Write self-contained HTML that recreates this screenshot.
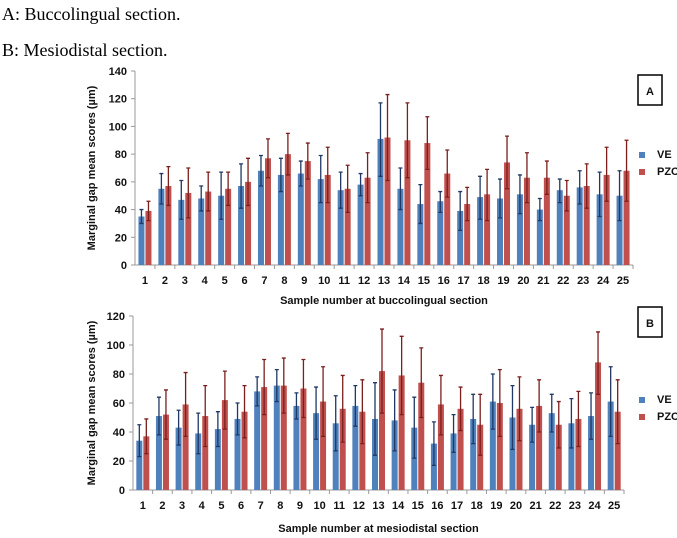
<!DOCTYPE html>
<html><head><meta charset="utf-8"><style>
body{margin:0;background:#fff;width:677px;height:538px;overflow:hidden}
svg{display:block}
.cap{font-family:"Liberation Serif",serif;font-size:18px;fill:#000}
.t{font-family:"Liberation Sans",sans-serif;font-weight:bold;font-size:11px;fill:#111}
</style></head><body>
<svg id="s" width="677" height="538">
<text class="cap" x="2" y="20">A: Buccolingual section.</text>
<text class="cap" x="2" y="56">B: Mesiodistal section.</text>
</svg>
<script>
const categories=[1,2,3,4,5,6,7,8,9,10,11,12,13,14,15,16,17,18,19,20,21,22,23,24,25];
const veA=[35,55,47,48,50,57,68,65,66,62,54,58,91,55,44,46,39,49,48,51,40,54,56,51,50];
const veAHi=[40,66,61,57,67,73,79,77,75,79,67,66,117,70,58,53,53,64,62,65,48,62,68,67,68];
const veALo=[30,44,33,39,33,41,57,53,57,45,41,50,64,40,30,38,25,33,34,37,32,45,44,35,32];
const pzcA=[39,57,52,53,55,60,77,80,75,65,55,63,92,90,88,66,44,51,74,63,63,50,57,65,68];
const pzcAHi=[46,71,70,67,67,77,91,95,88,85,72,81,123,117,107,83,56,69,93,81,75,61,73,85,90];
const pzcALo=[32,43,34,39,43,43,63,65,62,45,38,45,61,63,69,49,32,32,55,45,51,39,41,46,46];
const veB=[34,51,43,39,42,49,68,72,58,53,46,58,49,48,43,32,39,49,61,50,45,53,46,51,61];
const veBHi=[45,64,55,53,54,60,78,83,67,71,65,72,74,69,64,47,52,66,80,72,57,66,63,67,85];
const veBLo=[23,38,31,25,30,38,58,61,49,35,27,44,24,27,22,17,26,32,42,28,33,40,29,35,37];
const pzcB=[37,52,59,51,62,54,71,72,70,61,56,54,82,79,74,59,56,45,60,56,58,45,49,88,54];
const pzcBHi=[49,69,81,72,82,72,90,91,90,85,79,76,111,106,98,79,71,66,83,78,76,61,68,109,76];
const pzcBLo=[25,35,37,30,42,36,52,53,50,37,33,32,53,52,50,38,41,24,37,34,40,29,30,66,32];
const ticksA=[0,20,40,60,80,100,120,140];
const ticksB=[0,20,40,60,80,100,120];
const NS='http://www.w3.org/2000/svg';
const svg=document.getElementById('s');
function mk(tag,attrs,parent){const e=document.createElementNS(NS,tag);for(const k in attrs)e.setAttribute(k,attrs[k]);(parent||svg).appendChild(e);return e;}
function chart(o){
  const g=mk('g',{});
  
  
  const ymax=o.ticks[o.ticks.length-1];
  const y=v=>o.y0-(v/ymax)*(o.y0-o.yTop);
  const step=(o.x1-o.x0)/categories.length;
  const x=i=>o.x0+step*(i+0.5);
  const ax=mk('line',{x1:o.x0,y1:o.yTop,x2:o.x0,y2:o.y0,stroke:'#999','stroke-width':1},g);
  
  const bx=mk('line',{x1:o.x0-4,y1:o.y0,x2:o.x1,y2:o.y0,stroke:'#999','stroke-width':1},g);
  
  o.ticks.forEach(t=>{
    mk('line',{x1:o.x0-4,x2:o.x0,y1:y(t),y2:y(t),stroke:'#999'},g);
    const tx=mk('text',{x:o.x0-8,y:y(t)+4,'text-anchor':'end',class:'t'},g);tx.textContent=t;
    
  });
  categories.forEach((c,i)=>{
    mk('line',{x1:o.x0+step*(i+1),x2:o.x0+step*(i+1),y1:o.y0,y2:o.y0+4,stroke:'#999'},g);
    const tx=mk('text',{x:x(i),y:o.y0+19,'text-anchor':'middle',class:'t'},g);tx.textContent=c;
    
    [[o.ve,o.veHi,o.veLo,'#4f81bd','#1f3864',-6.5],[o.pzc,o.pzcHi,o.pzcLo,'#c0504d','#7b1f1d',0.5]].forEach(([v,hi,lo,col,ec,off],s)=>{
      const b=mk('rect',{x:x(i)+off,y:y(v[i]),width:6,height:o.y0-y(v[i]),fill:col},g);
      
      const cx=x(i)+off+3;
      const e=mk('path',{d:`M${cx},${y(hi[i])}V${y(lo[i])}M${cx-2},${y(hi[i])}H${cx+2}M${cx-2},${y(lo[i])}H${cx+2}`,stroke:ec,'stroke-width':1.3,fill:'none'},g);
      
    });
  });
  const xt=mk('text',{x:(o.x0+o.x1)/2,y:o.xtY,'text-anchor':'middle',class:'t','font-size':'10'},g);xt.textContent=o.xt;
  
  const cy=(o.y0+o.yTop)/2;
  const yt=mk('text',{x:0,y:0,transform:`translate(95,${cy}) rotate(-90)`,'text-anchor':'middle',class:'t','font-size':'10'},g);yt.textContent='Marginal gap mean scores (µm)';
  
  const bxl=mk('rect',{x:638,y:o.boxY,width:24,height:30,fill:'#fff',stroke:'#000','stroke-width':1.5},g);
  
  const bt=mk('text',{x:650,y:o.boxY+20,'text-anchor':'middle',class:'t','font-size':'12'},g);bt.textContent=o.label;
  
  [['VE','#4f81bd'],['PZC','#c0504d']].forEach(([n,col],k)=>{
    const ly=o.legY+k*17;
    const sq=mk('rect',{x:639,y:ly-6,width:6,height:6,fill:col},g);
    
    const lt=mk('text',{x:657,y:ly,class:'t'},g);lt.textContent=n;
    
  });
}
chart({id:'chart-a',label:'A',x0:135,x1:633,y0:265,yTop:71,ticks:ticksA,ve:veA,veHi:veAHi,veLo:veALo,pzc:pzcA,pzcHi:pzcAHi,pzcLo:pzcALo,xt:'Sample number at buccolingual section',xtY:304,boxY:75,legY:158});
chart({id:'chart-b',label:'B',x0:133,x1:624,y0:490,yTop:316,ticks:ticksB,ve:veB,veHi:veBHi,veLo:veBLo,pzc:pzcB,pzcHi:pzcBHi,pzcLo:pzcBLo,xt:'Sample number at mesiodistal section',xtY:532,boxY:307,legY:403});
</script>
</body></html>
